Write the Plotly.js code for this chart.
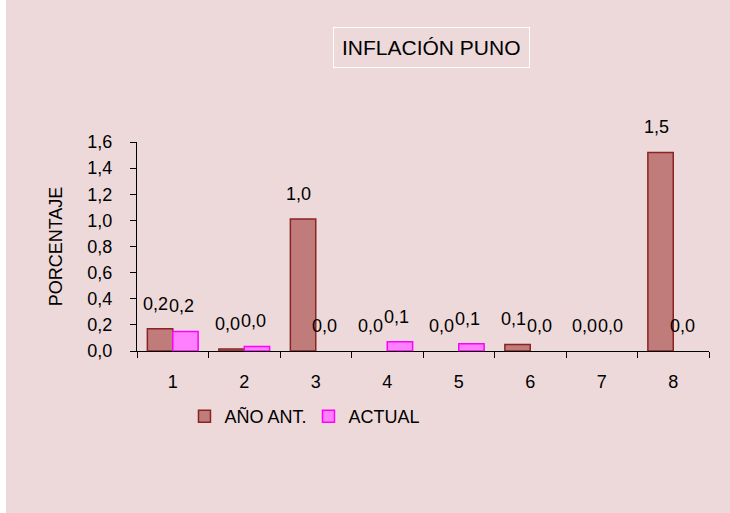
<!DOCTYPE html>
<html>
<head>
<meta charset="utf-8">
<script src="https://cdn.plot.ly/plotly-3.0.1.min.js"></script>
<style>
  html, body { margin: 0; padding: 0; background: #ffffff; }
  #chart { width: 730px; height: 513px; }
</style>
</head>
<body>
<div id="chart"></div>
<script>
// ---- data ----
var categories = ["1", "2", "3", "4", "5", "6", "7", "8"];
var seriesNames = ["AÑO ANT.", "ACTUAL"];
var anoAnt = [0.17, 0.015, 1.01, 0.0, 0.0, 0.05, 0.0, 1.52];
var actual = [0.15, 0.035, 0.0, 0.07, 0.055, 0.0, 0.0, 0.0];
var yTickVals = [0, 0.2, 0.4, 0.6, 0.8, 1.0, 1.2, 1.4, 1.6];
var chartTitle = "INFLACIÓN PUNO";
var yTitle = "PORCENTAJE";

// ---- styling ----
var bg = "#EDD9DA";
var brownFill = "#C07B7B", brownLine = "#8B2323";
var pinkFill = "#FF80FF", pinkLine = "#FF00FF";
var fontFam = "Liberation Sans, Arial, sans-serif";

function fmt(v) { return (Math.round(v * 10) / 10).toFixed(1).replace(".", ","); }
function lineWidths(vals) { return vals.map(function (v) { return v > 0 ? 1.5 : 0; }); }

var traces = [
  { type: "bar", name: seriesNames[0], x: categories, y: anoAnt,
    marker: { color: brownFill, line: { color: brownLine, width: lineWidths(anoAnt) } } },
  { type: "bar", name: seriesNames[1], x: categories, y: actual,
    marker: { color: pinkFill, line: { color: pinkLine, width: lineWidths(actual) } } }
];

var annotations = [];
var barHalf = 12.8;
[anoAnt, actual].forEach(function (vals, s) {
  vals.forEach(function (v, i) {
    annotations.push({
      x: i, y: v, xref: "x", yref: "y",
      text: fmt(v), showarrow: false,
      xshift: (s === 0 ? -barHalf : barHalf) - 4, yshift: 25,
      yanchor: "middle", xanchor: "center",
      font: { family: fontFam, size: 18, color: "#000000" }
    });
  });
});
annotations.push({
  xref: "paper", yref: "paper", x: 0.515, y: 1.452,
  text: chartTitle, showarrow: false, xanchor: "center", yanchor: "middle",
  font: { family: fontFam, size: 21, color: "#000000" },
  bordercolor: "#FFFFFF", borderwidth: 1, borderpad: 8
});

var layout = {
  width: 730, height: 513,
  margin: { l: 137, r: 21, t: 142, b: 162 },
  paper_bgcolor: bg, plot_bgcolor: bg,
  separators: ",.",
  showlegend: true,
  bargap: 0.29, bargroupgap: 0,
  font: { family: fontFam, size: 18, color: "#000000" },
  xaxis: {
    type: "category", range: [-0.5, 7.5], autorange: false,
    showline: true, linecolor: "#000000", linewidth: 1,
    ticks: "outside", tickson: "boundaries", ticklen: 6, tickcolor: "#000000",
    showgrid: false, zeroline: false, ticklabelstandoff: 14,
    tickfont: { family: fontFam, size: 18 }
  },
  yaxis: {
    range: [0, 1.6], autorange: false, tickvals: yTickVals, tickformat: ".1f",
    showline: true, linecolor: "#000000", linewidth: 1,
    ticks: "outside", ticklen: 6, tickcolor: "#000000",
    showgrid: false, zeroline: false, ticklabelstandoff: 14,
    tickfont: { family: fontFam, size: 18 },
    title: { text: yTitle, standoff: 20, font: { family: fontFam, size: 18 } }
  },
  legend: {
    orientation: "h", x: 0.083, y: -0.225, xanchor: "left", yanchor: "top",
    bgcolor: "rgba(0,0,0,0)", font: { family: fontFam, size: 18 },
    itemwidth: 30, traceorder: "normal",
    entrywidth: 79, entrywidthmode: "pixels"
  },
  annotations: annotations,
  shapes: [
    { type: "rect", xref: "paper", yref: "paper", layer: "above",
      x0: -137 / 572, x1: (6 - 137) / 572, y0: -162 / 209, y1: (513 - 162) / 209,
      fillcolor: "#FFFFFF", line: { width: 0 } }
  ]
};

Plotly.newPlot("chart", traces, layout, { displayModeBar: false, staticPlot: true });
</script>
</body>
</html>
